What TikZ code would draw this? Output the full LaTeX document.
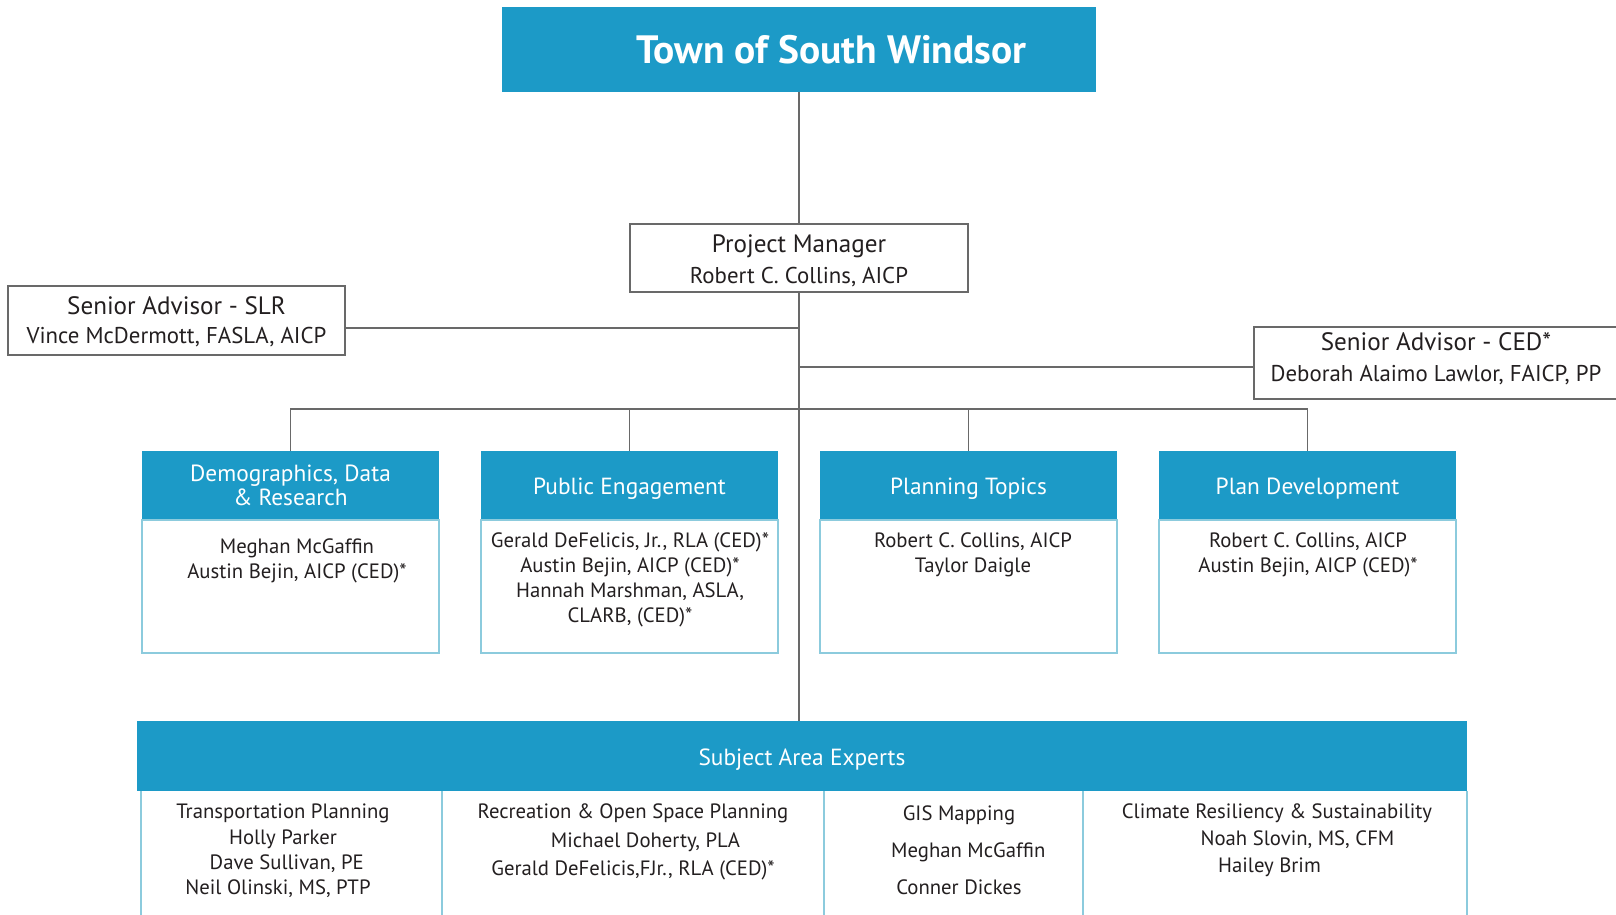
\documentclass[tikz,border=0pt]{standalone}
\usepackage{fontspec}
\setmainfont{PT Sans}
\usetikzlibrary{calc}

\definecolor{swblue}{RGB}{28,154,199}
\definecolor{swedge}{RGB}{140,203,221}
\definecolor{swline}{RGB}{105,105,105}
\definecolor{swtext}{RGB}{35,31,32}

\newcommand{\advtitle}[1]{{\fontsize{14.3}{17.6}\selectfont #1}}

\tikzset{
  conn/.style={draw=swline, line width=0.7pt},
  headbox/.style={fill=swblue, text=white, inner sep=0pt, align=center,
    minimum width=5.94cm, minimum height=1.36cm, font=\fontsize{13.3}{13.5}\selectfont,
    execute at begin node={\rule{0pt}{14pt}}},
  bodybox/.style={draw=swedge, line width=0.8pt, inner sep=0pt, anchor=north,
    minimum width=5.94cm, minimum height=2.66cm},
  advbox/.style={draw=swline, line width=0.7pt, fill=white, inner sep=0pt, align=center,
    text=swtext, font=\fontsize{13}{17.6}\selectfont},
  bodytext/.style={text=swtext, align=center, inner sep=0pt, font=\fontsize{11.8}{14.2}\selectfont},
}

\begin{document}
\begin{tikzpicture}[x=0.02cm, y=-0.02cm]
  \useasboundingbox (0,0) rectangle (1616,914);

  % top of the chart
  \node[fill=swblue, text=white, minimum width=11.88cm, minimum height=1.70cm, inner sep=0pt,
    font=\fontsize{22.5}{24}\bfseries\selectfont] (town) at (799,49.5) {\hspace*{1.3cm}Town of South Windsor};
  \node[advbox, minimum width=6.76cm, minimum height=1.36cm] (pm) at (799,258)
    {\rule{0pt}{13.5pt}\advtitle{Project Manager}\\Robert C. Collins, AICP};
  \node[advbox, minimum width=6.74cm, minimum height=1.38cm, font=\fontsize{13}{16.4}\selectfont] (slr) at (176.5,320.5)
    {\rule{0pt}{12pt}\advtitle{Senior Advisor - SLR}\\Vince McDermott, FASLA, AICP};
  \node[advbox, minimum width=7.28cm, minimum height=1.44cm] (ced) at (1436,363)
    {\advtitle{Senior Advisor - CED*}\\Deborah Alaimo Lawlor, FAICP, PP\rule[-7.2pt]{0pt}{0pt}};

  % task groups
  \node[headbox, execute at begin node={\rule{0pt}{14pt}}] (demo) at (290.5,485) {Demographics, Data\\\& Research};
  \node[headbox] (pub) at (629.5,485) {Public Engagement};
  \node[headbox] (plan) at (968.5,485) {Planning Topics};
  \node[headbox] (dev) at (1307.5,485) {Plan Development};
  \node[bodybox] (demobody) at (demo.south) {};
  \node[bodybox] (pubbody) at (pub.south) {};
  \node[bodybox] (planbody) at (plan.south) {};
  \node[bodybox] (devbody) at (dev.south) {};

  \node[bodytext] (demotxt) at (297,561) {Meghan McGaffin\\Austin Bejin, AICP (CED)*};
  \node[bodytext] (pubtxt) at (630,579.5) {Gerald DeFelicis, Jr., RLA (CED)*\\Austin Bejin, AICP (CED)*\\
    Hannah Marshman, ASLA,\\CLARB, (CED)*};
  \node[bodytext] (plantxt) at (973,555) {Robert C. Collins, AICP\\Taylor Daigle};
  \node[bodytext] (devtxt) at (1308,555) {Robert C. Collins, AICP\\Austin Bejin, AICP (CED)*};

  % subject area experts
  \node[headbox, minimum width=26.6cm, minimum height=1.40cm] (sae) at (802,756) {Subject Area Experts};
  \foreach \x in {141,442,824,1083,1467}
    \draw[draw=swedge, line width=0.8pt] (\x,791) -- (\x,916);

  \node[bodytext, font=\fontsize{11.8}{14.4}\selectfont] (trans) at (283,851)
    {Transportation Planning\\Holly Parker\\\hspace*{0.15cm}Dave Sullivan, PE\\Neil Olinski, MS, PTP\hspace*{0.2cm}};
  \node[bodytext, font=\fontsize{11.8}{16.4}\selectfont] (rec) at (633,842)
    {Recreation \& Open Space Planning\\\hspace*{0.5cm}Michael Doherty, PLA\\Gerald DeFelicis,FJr., RLA (CED)*};
  \node[bodytext, font=\fontsize{11.8}{21}\selectfont] (gis) at (959,850)
    {GIS Mapping\\\hspace*{0.37cm}Meghan McGaffin\\Conner Dickes};
  \node[bodytext, font=\fontsize{11.8}{15.3}\selectfont] (clim) at (1277,840)
    {Climate Resiliency \& Sustainability\\\hspace*{0.82cm}Noah Slovin, MS, CFM\\Hailey Brim\hspace*{0.3cm}};

  % connectors
  \coordinate (jslr) at (799,328);
  \coordinate (jced) at (799,367);
  \coordinate (bus) at (799,409);
  \draw[conn] (town.south) -- (pm.north);
  \draw[conn] (pm.south) -- (pm.south |- sae.north);
  \draw[conn] (jslr) -- (jslr -| slr.east);
  \draw[conn] (jced) -- (jced -| ced.west);
  \draw[conn] (demo.north) -- (demo.north |- bus) -- (dev.north |- bus) -- (dev.north);
  \draw[conn] (pub.north) -- (pub.north |- bus);
  \draw[conn] (plan.north) -- (plan.north |- bus);
\end{tikzpicture}
\end{document}
